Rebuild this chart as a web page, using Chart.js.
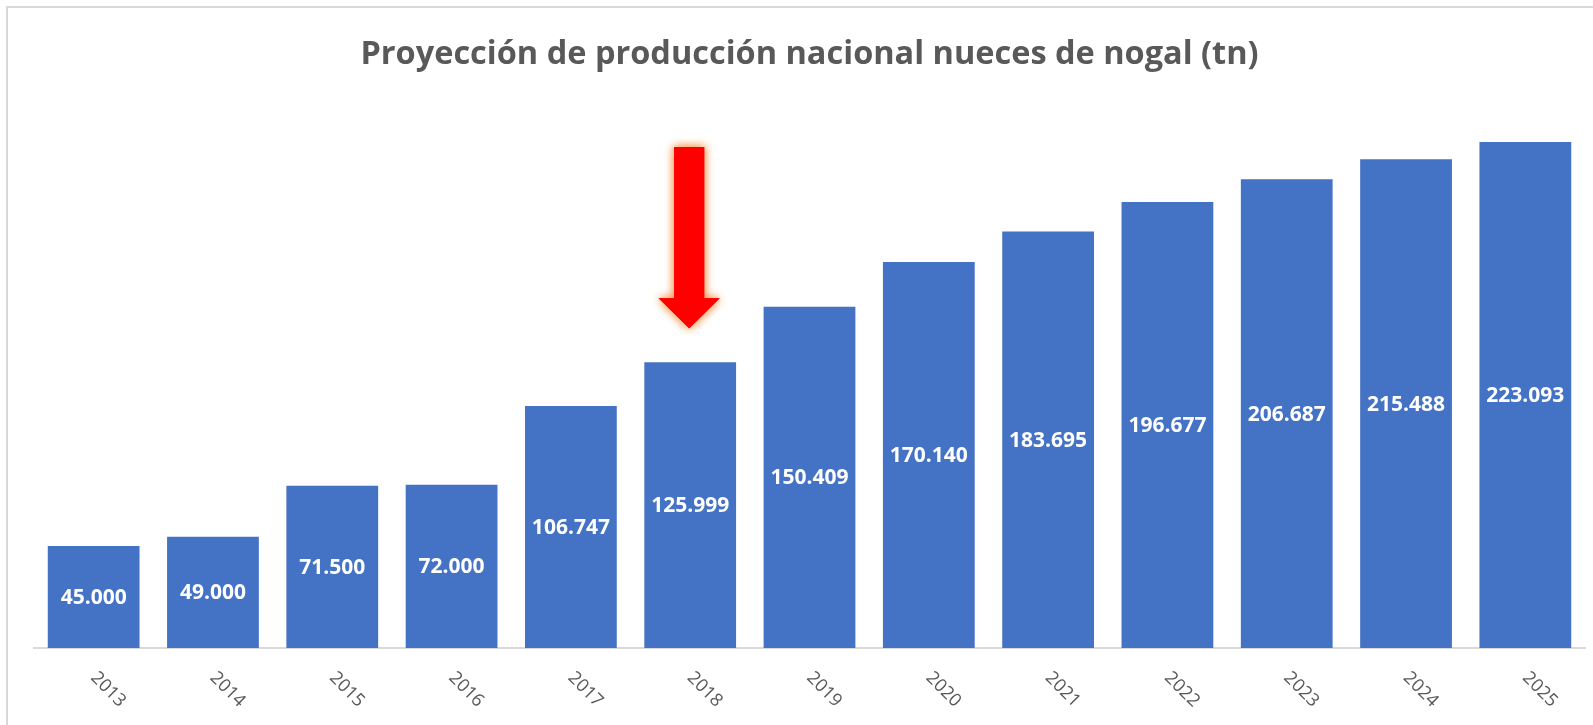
<!DOCTYPE html>
<html>
<head>
<meta charset="utf-8">
<title>Proyección de producción nacional nueces de nogal (tn)</title>
<script src="https://cdn.jsdelivr.net/npm/chart.js@4.4.1/dist/chart.umd.min.js"></script>
<style>
  html, body { margin: 0; padding: 0; background: #fff; overflow: hidden; }
  #wrap { width: 1593px; height: 725px; position: relative; }
</style>
</head>
<body>
<div id="wrap"><canvas id="chart"></canvas></div>
<script>
// Data
const years = ['2013', '2014', '2015', '2016', '2017', '2018', '2019', '2020', '2021', '2022', '2023', '2024', '2025'];
const production = [45000, 49000, 71500, 72000, 106747, 125999, 150409, 170140, 183695, 196677, 206687, 215488, 223093];
const yMax = 250000;
const highlightYear = '2018';
const chartTitle = 'Proyección de producción nacional nueces de nogal (tn)';

const BLUE = '#4472C4';
const GREY_TEXT = '#595959';
const FRAME = '#d9d9d9';

// 45000 -> "45.000"
function fmt(v) {
  return String(v).replace(/\B(?=(\d{3})+(?!\d))/g, '.');
}

// White background + the light frame of the chart object
const framePlugin = {
  id: 'frame',
  beforeDraw(chart) {
    const ctx = chart.ctx;
    ctx.save();
    ctx.fillStyle = '#fff';
    ctx.fillRect(0, 0, chart.width, chart.height);
    ctx.strokeStyle = FRAME;
    ctx.lineWidth = 2;
    ctx.beginPath();
    ctx.moveTo(7, chart.height);
    ctx.lineTo(7, 7);
    ctx.lineTo(chart.width, 7);
    ctx.stroke();
    ctx.restore();
  }
};

// Values written in the middle of each bar
const valueLabels = {
  id: 'valueLabels',
  afterDatasetsDraw(chart) {
    const ctx = chart.ctx;
    const meta = chart.getDatasetMeta(0);
    ctx.save();
    ctx.fillStyle = '#fff';
    ctx.font = 'bold 21px "Open Sans"';
    ctx.textAlign = 'center';
    ctx.textBaseline = 'middle';
    meta.data.forEach((bar, i) => {
      ctx.fillText(fmt(production[i]), bar.x, (bar.y + bar.base) / 2 + 1);
    });
    ctx.restore();
  }
};

// Year labels slanted down to the right
const slantedTicks = {
  id: 'slantedTicks',
  afterDraw(chart) {
    const ctx = chart.ctx;
    const xs = chart.scales.x;
    ctx.save();
    ctx.fillStyle = GREY_TEXT;
    ctx.font = '18px "Open Sans"';
    ctx.textAlign = 'left';
    ctx.textBaseline = 'middle';
    years.forEach((y, i) => {
      ctx.save();
      ctx.translate(xs.getPixelForTick(i), xs.top + 27);
      ctx.rotate(Math.PI / 4);
      ctx.fillText(y, 0, 0);
      ctx.restore();
    });
    ctx.restore();
  }
};

// Red arrow pointing at the highlighted year
const arrowPlugin = {
  id: 'arrow',
  afterDraw(chart) {
    const idx = years.indexOf(highlightYear);
    const bar = chart.getDatasetMeta(0).data[idx];
    const ctx = chart.ctx;
    const cx = bar.x - 1;
    const tip = bar.y - 34;
    const top = chart.chartArea.top + 66;
    const headH = 30, headW = 30.5, shaftW = 15;
    ctx.save();
    ctx.beginPath();
    ctx.moveTo(cx - shaftW, top);
    ctx.lineTo(cx + shaftW, top);
    ctx.lineTo(cx + shaftW, tip - headH);
    ctx.lineTo(cx + headW, tip - headH);
    ctx.lineTo(cx, tip);
    ctx.lineTo(cx - headW, tip - headH);
    ctx.lineTo(cx - shaftW, tip - headH);
    ctx.closePath();
    // soft orange glow
    ctx.shadowColor = 'rgba(246, 160, 95, 1)';
    ctx.shadowBlur = 10;
    ctx.fillStyle = '#ff0000';
    ctx.fill();
    ctx.fill();
    ctx.shadowBlur = 0;
    ctx.fill();
    ctx.restore();
  }
};

new Chart(document.getElementById('chart'), {
  type: 'bar',
  data: {
    labels: years,
    datasets: [{
      label: 'Producción (tn)',
      data: production,
      backgroundColor: BLUE,
      borderWidth: 0,
      barPercentage: 1 / 1.3,
      categoryPercentage: 1
    }]
  },
  options: {
    responsive: true,
    maintainAspectRatio: false,
    animation: false,
    layout: { padding: { left: 34, right: 8, top: 0, bottom: 0 } },
    plugins: {
      legend: { display: false },
      tooltip: { enabled: false },
      title: {
        display: true,
        text: chartTitle,
        color: GREY_TEXT,
        font: { family: '"Open Sans"', size: 32.5, weight: 'bold' },
        padding: { top: 35, bottom: 7 }
      }
    },
    scales: {
      x: {
        grid: { display: false },
        border: { display: true, color: FRAME, width: 2 },
        ticks: { display: false },
        afterFit(scale) { scale.height = 77; }
      },
      y: {
        display: false,
        min: 0,
        max: yMax
      }
    }
  },
  plugins: [framePlugin, valueLabels, slantedTicks, arrowPlugin]
});
</script>
</body>
</html>
